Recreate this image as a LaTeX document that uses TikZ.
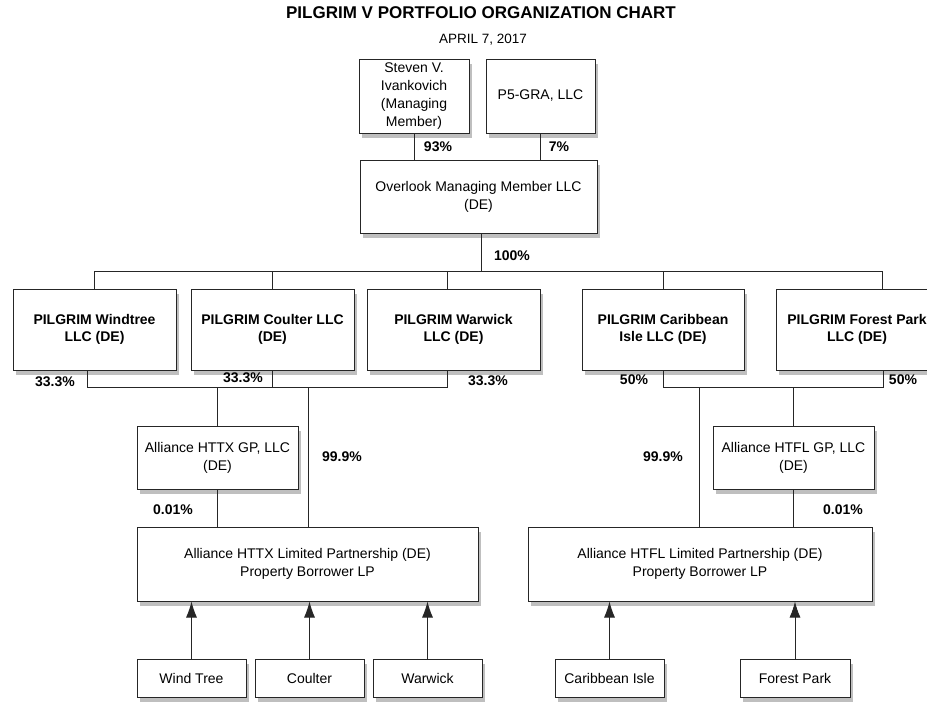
\documentclass[tikz,border=0pt]{standalone}
\usepackage{fontspec}
\setmainfont{Liberation Sans}
\usetikzlibrary{shadows,arrows.meta}
\begin{document}
\begin{tikzpicture}[x=1pt,y=-1pt,
  box/.style={draw=black!85, line width=1pt, fill=white, align=center, inner sep=1pt,
    font=\fontsize{14}{18}\selectfont,
    general shadow={fill=black!25, shadow xshift=3pt, shadow yshift=-5pt}},
  bbox/.style={box, font=\fontsize{14}{17}\selectfont\bfseries},
  pct/.style={font=\fontsize{14}{16}\selectfont\bfseries, inner sep=0pt},
  ln/.style={draw=black!85, line width=0.9pt},
  arr/.style={ln, -{Latex[length=16pt,width=11pt]}}]
\useasboundingbox (0,0) rectangle (927,702);
\clip (0,0) rectangle (927,702);

% titles
\node[font=\fontsize{17}{20}\selectfont\bfseries] (title) at (481,13) {PILGRIM V PORTFOLIO ORGANIZATION CHART};
\node[font=\fontsize{13.5}{16}\selectfont] (date) at (483,40) {APRIL 7, 2017};

% top
\node[box, minimum width=110pt, minimum height=74pt] (steven) at (414,96) {Steven V.\\Ivankovich\\(Managing\\Member)};
\node[box, minimum width=109pt, minimum height=74pt] (p5) at (540.5,96) {P5-GRA, LLC};
\node[box, minimum width=237pt, minimum height=73pt] (over) at (478.5,196.5) {Overlook Managing Member LLC\\(DE)};

% pilgrim row
\node[bbox, minimum width=163pt, minimum height=81pt] (wind) at (94.5,329.5) {PILGRIM Windtree\\LLC (DE)};
\node[bbox, minimum width=163pt, minimum height=81pt] (coulter) at (272.5,329.5) {PILGRIM Coulter LLC\\(DE)};
\node[bbox, minimum width=173pt, minimum height=81pt] (warwick) at (453.5,329.5) {PILGRIM Warwick\\LLC (DE)};
\node[bbox, minimum width=162pt, minimum height=81pt] (carib) at (663,329.5) {PILGRIM Caribbean\\Isle LLC (DE)};
\node[bbox, minimum width=162pt, minimum height=81pt] (forest) at (857,329.5) {PILGRIM Forest Park\\LLC (DE)};

% GP boxes
\node[box, minimum width=161pt, minimum height=63pt] (httxgp) at (217.5,457.5) {Alliance HTTX GP, LLC\\(DE)};
\node[box, minimum width=161pt, minimum height=63pt] (htflgp) at (793.5,457.5) {Alliance HTFL GP, LLC\\(DE)};

% LP boxes
\node[box, minimum width=341pt, minimum height=74pt] (httxlp) at (307.5,564) {Alliance HTTX Limited Partnership (DE)\\Property Borrower LP};
\node[box, minimum width=344pt, minimum height=74pt] (htfllp) at (700,564) {Alliance HTFL Limited Partnership (DE)\\Property Borrower LP};

% properties
\node[box, minimum width=109pt, minimum height=38pt] (pwind) at (191.5,678) {Wind Tree};
\node[box, minimum width=109pt, minimum height=38pt] (pcoul) at (309.5,678) {Coulter};
\node[box, minimum width=109pt, minimum height=38pt] (pwar) at (427.5,678) {Warwick};
\node[box, minimum width=109pt, minimum height=38pt] (pcar) at (609.5,678) {Caribbean Isle};
\node[box, minimum width=110pt, minimum height=38pt] (pfor) at (795,678) {Forest Park};

% coordinates
\coordinate (busTop) at (0,271);
\coordinate (odrop) at (481,233);
\coordinate (wdrop) at (447,271);
\coordinate (fdrop) at (882,271);
\coordinate (lb1) at (87,387);
\coordinate (lb2) at (447,387);
\coordinate (d99a) at (308,387);
\coordinate (rb1) at (663,387);
\coordinate (rb2) at (883,387);
\coordinate (d99b) at (699,387);

% connectors top
\draw[ln] (steven.south) -- (steven.south |- over.north);
\draw[ln] (p5.south) -- (p5.south |- over.north);
\draw[ln] (odrop) -- (odrop |- busTop);
\draw[ln] (wind.north) -- (wind.north |- busTop) -- (fdrop) -- (fdrop |- forest.north);
\draw[ln] (coulter.north) -- (coulter.north |- busTop);
\draw[ln] (wdrop) -- (wdrop |- warwick.north);
\draw[ln] (carib.north) -- (carib.north |- busTop);

% lower left
\draw[ln] (lb1 |- wind.south) -- (lb1) -- (lb2) -- (lb2 |- warwick.south);
\draw[ln] (coulter.south) -- (coulter.south |- lb1);
\draw[ln] (httxgp.north |- lb1) -- (httxgp.north);
\draw[ln] (httxgp.south) -- (httxgp.south |- httxlp.north);
\draw[ln] (d99a) -- (d99a |- httxlp.north);

% lower right
\draw[ln] (carib.south) -- (rb1) -- (rb2) -- (rb2 |- forest.south);
\draw[ln] (htflgp.north |- rb1) -- (htflgp.north);
\draw[ln] (htflgp.south) -- (htflgp.south |- htfllp.north);
\draw[ln] (d99b) -- (d99b |- htfllp.north);

% arrows
\draw[arr] (pwind.north) -- (pwind.north |- httxlp.south);
\draw[arr] (pcoul.north) -- (pcoul.north |- httxlp.south);
\draw[arr] (pwar.north) -- (pwar.north |- httxlp.south);
\draw[arr] (pcar.north) -- (pcar.north |- htfllp.south);
\draw[arr] (pfor.north) -- (pfor.north |- htfllp.south);

% percentages
\node[pct] (l93) at (438,147) {93\%};
\node[pct] (l7) at (559,147) {7\%};
\node[pct] (l100) at (512,256) {100\%};
\node[pct] (l33a) at (55,382) {33.3\%};
\node[pct] (l33b) at (243,378) {33.3\%};
\node[pct] (l33c) at (488,381) {33.3\%};
\node[pct] (l50a) at (634,380) {50\%};
\node[pct] (l50b) at (903,380) {50\%};
\node[pct] (l99a) at (342,457) {99.9\%};
\node[pct] (l99b) at (663,457) {99.9\%};
\node[pct] (l01a) at (173,510) {0.01\%};
\node[pct] (l01b) at (843,510) {0.01\%};
\end{tikzpicture}
\end{document}
